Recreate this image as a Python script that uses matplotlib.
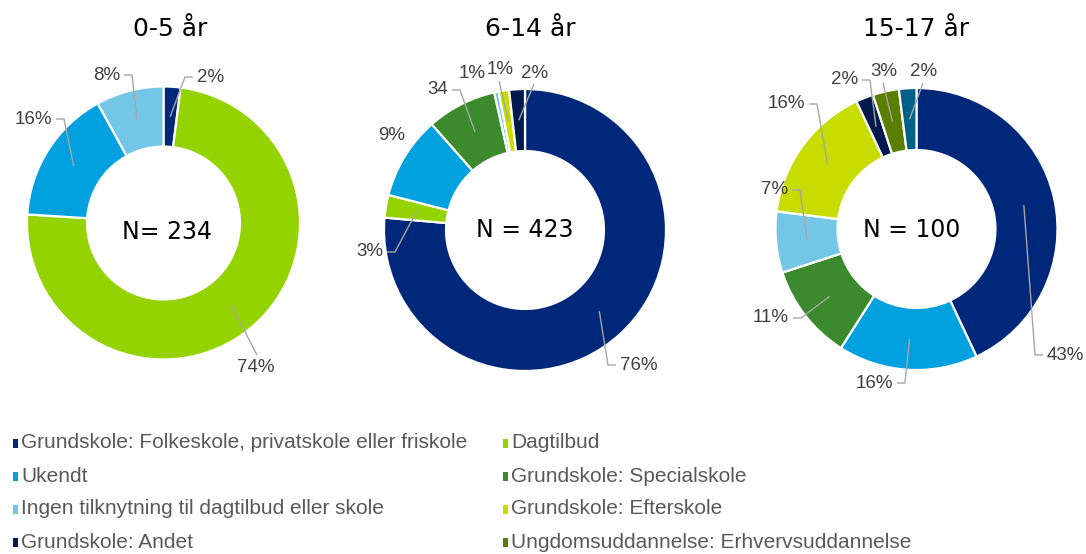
import matplotlib
matplotlib.use('Agg')
import matplotlib.pyplot as plt
from matplotlib.patches import Rectangle
import numpy as np

W, H = 1086, 554

categories = [
    "Grundskole: Folkeskole, privatskole eller friskole",
    "Dagtilbud",
    "Ukendt",
    "Grundskole: Specialskole",
    "Ingen tilknytning til dagtilbud eller skole",
    "Grundskole: Efterskole",
    "Grundskole: Andet",
    "Ungdomsuddannelse: Erhvervsuddannelse",
    "Ungdomsuddannelse: Gymnasial uddannelse",
]
colors = ["#00287A", "#94D300", "#00A1DE", "#3C8A2E", "#74C6E7",
          "#C9DC00", "#001A4D", "#5A7F00", "#006088"]

titles = ["0-5 år", "6-14 år", "15-17 år"]
n_texts = ["N= 234", "N = 423", "N = 100"]

# shares (%) per category, in category order (clockwise from top)
values_0_5 = [2, 74, 16, 0, 8, 0, 0, 0, 0]
values_6_14 = [76.4, 2.6, 9.5, 8.0, 0.5, 1.2, 1.8, 0, 0]
values_15_17 = [43, 0, 16, 11, 7, 16, 2, 3, 2]

labels_0_5 = ["2%", "74%", "16%", "", "8%", "", "", "", ""]
labels_6_14 = ["76%", "3%", "9%", "34", "1%", "1%", "2%", "", ""]
labels_15_17 = ["43%", "", "16%", "11%", "7%", "16%", "2%", "3%", "2%"]

all_values = [values_0_5, values_6_14, values_15_17]
all_labels = [labels_0_5, labels_6_14, labels_15_17]

# ---- layout (pixel coordinates, y from top) ----
pie_geom = [(163.5, 223, 136.5), (525, 230, 141), (916.5, 229, 141)]
title_pos = [(170, 36), (530, 36), (916, 36)]
n_pos = [(167.5, 232), (525, 230), (912, 230)]
# per non-zero wedge: (x, y, style)
label_layout = [
    [(197, 77, 'L'), (256, 367, 'B'), (52, 119, 'R'), (120, 75, 'R')],
    [(620, 365, 'L'), (383, 252, 'R'), (392, 135, 'N'), (448, 90, 'R'),
     (472, 73, 'N'), (500, 70, 'A'), (535, 73, 'A')],
    [(1047, 355, 'L'), (893, 383, 'R'), (789, 318, 'R'), (788, 190, 'R'),
     (805, 104, 'R'), (858, 80, 'R'), (884, 72, 'A'), (924, 72, 'A')],
]

def Y(py):
    return H - py

fig = plt.figure(figsize=(W / 100, H / 100), dpi=100)
ax = fig.add_axes([0, 0, 1, 1])

label_font = dict(family=['Liberation Sans', 'DejaVu Sans'], size=13.5, color='#404040')
lead_kw = dict(color='#A6A6A6', lw=1.0, solid_capstyle='butt')

for k in range(3):
    cx, cy, R = pie_geom[k]
    vals = [v for v in all_values[k] if v > 0]
    cols = [c for v, c in zip(all_values[k], colors) if v > 0]
    labs = [l for v, l in zip(all_values[k], all_labels[k]) if v > 0]
    ax.pie(vals, colors=cols, startangle=90, counterclock=False,
           center=(cx, Y(cy)), radius=R,
           wedgeprops=dict(width=0.44 * R, edgecolor='white', linewidth=1.6))
    total = sum(vals)
    cum = 0
    for v, lab, (tx, ty, st) in zip(vals, labs, label_layout[k]):
        mid = 90 - (cum + v / 2) / total * 360
        cum += v
        ar = 0.78 * R
        axp = cx + ar * np.cos(np.radians(mid))
        ayp = cy - ar * np.sin(np.radians(mid))
        if st == 'L':
            ax.text(tx, Y(ty), lab, ha='left', va='center', **label_font)
            ax.plot([axp, tx - 12, tx - 4], [Y(ayp), Y(ty), Y(ty)], **lead_kw)
        elif st == 'R':
            ax.text(tx, Y(ty), lab, ha='right', va='center', **label_font)
            ax.plot([axp, tx + 12, tx + 4], [Y(ayp), Y(ty), Y(ty)], **lead_kw)
        elif st == 'A':
            ax.text(tx, Y(ty), lab, ha='center', va='center', **label_font)
            ax.plot([axp, tx - 1], [Y(ayp), Y(ty + 11)], **lead_kw)
        elif st == 'B':
            ax.text(tx, Y(ty), lab, ha='center', va='center', **label_font)
            ax.plot([axp, tx + 1], [Y(ayp), Y(ty - 12)], **lead_kw)
        else:
            ax.text(tx, Y(ty), lab, ha='center', va='center', **label_font)
    ax.text(title_pos[k][0], Y(title_pos[k][1]), titles[k], ha='center',
            va='baseline', family='DejaVu Sans', size=18, color='black')
    ax.text(n_pos[k][0], Y(n_pos[k][1]), n_texts[k], ha='center',
            va='center', family='DejaVu Sans', size=17, color='black')

# ---- legend (2 columns, row-wise) ----
leg_x = [13, 503]
leg_y0, leg_dy = 443, 33
for i, (cat, col) in enumerate(zip(categories[:8], colors[:8])):
    r, c = divmod(i, 2)
    x = leg_x[c]
    y = leg_y0 + r * leg_dy
    ax.add_patch(Rectangle((x, Y(y + 4.5)), 5, 9, facecolor=col, edgecolor='none'))
    ax.text(x + 8, Y(y), cat, ha='left', va='center',
            family=['Liberation Sans', 'DejaVu Sans'], size=15, color='#595959')

ax.set_xlim(0, W)
ax.set_ylim(0, H)
ax.set_aspect('auto')
ax.axis('off')
fig.savefig('out.png', dpi=100, facecolor='white')
